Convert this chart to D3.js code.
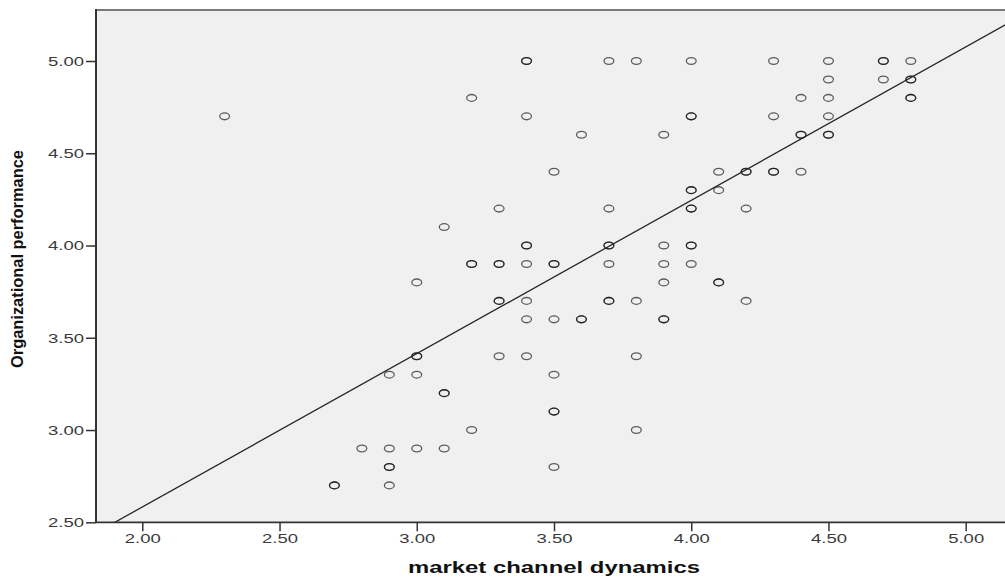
<!DOCTYPE html>
<html>
<head>
<meta charset="utf-8">
<script src="https://cdn.jsdelivr.net/npm/d3@7"></script>
<style>
  html, body { margin: 0; padding: 0; background: #ffffff; }
  svg { display: block; }
</style>
</head>
<body>
<div id="chart"></div>
<script>
// ---------- data ----------
const xTicks = [2.00, 2.50, 3.00, 3.50, 4.00, 4.50, 5.00];
const yTicks = [2.50, 3.00, 3.50, 4.00, 4.50, 5.00];
const xTitle = "market channel dynamics";
const yTitle = "Organizational performance";

// market channel dynamics (x) and organizational performance (y); repeated pairs = overlapping cases
const xValues = [
  3.4,3.4,3.7,3.8,4.0,4.3,4.5,4.7,4.7,4.8,
  4.5,4.7,4.8,4.8,
  3.2,4.4,4.5,4.8,4.8,
  2.3,3.4,4.0,4.0,4.3,4.5,
  3.6,3.9,4.4,4.4,4.5,4.5,
  3.5,4.1,4.2,4.2,4.3,4.3,4.4,
  4.0,4.0,4.1,
  3.3,3.7,4.0,4.0,4.2,
  3.1,
  3.4,3.4,3.7,3.7,3.9,4.0,4.0,
  3.2,3.2,3.3,3.3,3.4,3.5,3.5,3.7,3.9,4.0,
  3.0,3.9,4.1,4.1,
  3.3,3.3,3.4,3.7,3.7,3.8,4.2,
  3.4,3.5,3.6,3.6,3.9,3.9,
  3.0,3.0,3.3,3.4,3.8,
  2.9,3.0,3.5,
  3.1,3.1,
  3.5,3.5,
  3.2,3.8,
  2.8,2.9,3.0,3.1,
  2.9,2.9,3.5,
  2.7,2.7,2.9
];
const yValues = [
  5.0,5.0,5.0,5.0,5.0,5.0,5.0,5.0,5.0,5.0,
  4.9,4.9,4.9,4.9,
  4.8,4.8,4.8,4.8,4.8,
  4.7,4.7,4.7,4.7,4.7,4.7,
  4.6,4.6,4.6,4.6,4.6,4.6,
  4.4,4.4,4.4,4.4,4.4,4.4,4.4,
  4.3,4.3,4.3,
  4.2,4.2,4.2,4.2,4.2,
  4.1,
  4.0,4.0,4.0,4.0,4.0,4.0,4.0,
  3.9,3.9,3.9,3.9,3.9,3.9,3.9,3.9,3.9,3.9,
  3.8,3.8,3.8,3.8,
  3.7,3.7,3.7,3.7,3.7,3.7,3.7,
  3.6,3.6,3.6,3.6,3.6,3.6,
  3.4,3.4,3.4,3.4,3.4,
  3.3,3.3,3.3,
  3.2,3.2,
  3.1,3.1,
  3.0,3.0,
  2.9,2.9,2.9,2.9,
  2.8,2.8,2.8,
  2.7,2.7,2.7
];

// fit line
const fitIntercept = 0.921;
const fitSlope = 0.831;

// ---------- layout ----------
const W = 1005, H = 579;
const plotLeft = 96, plotTop = 10, plotRight = 1010, plotBottom = 522.3;

const x = d3.scaleLinear().domain([2, 5]).range([142.3, 965.7]);
const y = d3.scaleLinear().domain([2.5, 5]).range([522.3, 61]);

const svg = d3.select("#chart").append("svg")
  .attr("width", W).attr("height", H);

svg.append("defs").append("clipPath").attr("id", "plotClip")
  .append("rect")
  .attr("x", plotLeft).attr("y", plotTop)
  .attr("width", plotRight - plotLeft).attr("height", plotBottom - plotTop);

// plot background
svg.append("rect")
  .attr("x", plotLeft).attr("y", plotTop)
  .attr("width", plotRight - plotLeft).attr("height", plotBottom - plotTop)
  .attr("fill", "#f0f0f0");

// top border
svg.append("line")
  .attr("x1", plotLeft).attr("x2", plotRight)
  .attr("y1", plotTop).attr("y2", plotTop)
  .attr("stroke", "#7a7a7a").attr("stroke-width", 2);

const g = svg.append("g").attr("clip-path", "url(#plotClip)");

// points
g.selectAll("ellipse.pt")
  .data(xValues.map((v, i) => ({ x: v, y: yValues[i] })))
  .join("ellipse")
  .attr("class", "pt")
  .attr("cx", d => x(d.x))
  .attr("cy", d => y(d.y))
  .attr("rx", 4.9)
  .attr("ry", 3.4)
  .attr("fill", "none")
  .attr("stroke", "#000")
  .attr("stroke-opacity", 0.62)
  .attr("stroke-width", 1.3);

// regression line
const xd0 = x.invert(plotLeft), xd1 = x.invert(plotRight);
g.append("line")
  .attr("x1", x(xd0)).attr("y1", y(fitIntercept + fitSlope * xd0))
  .attr("x2", x(xd1)).attr("y2", y(fitIntercept + fitSlope * xd1))
  .attr("stroke", "#262626").attr("stroke-width", 1.3);

// axes
const fmt = d3.format(".2f");
const yAxis = svg.append("g")
  .attr("transform", `translate(${plotLeft},0)`)
  .call(d3.axisLeft(y).tickValues(yTicks).tickFormat(fmt).tickSize(10).tickPadding(2).tickSizeOuter(0));
const xAxis = svg.append("g")
  .attr("transform", `translate(0,${plotBottom})`)
  .call(d3.axisBottom(x).tickValues(xTicks).tickFormat(fmt).tickSize(9).tickPadding(3).tickSizeOuter(0));

[yAxis, xAxis].forEach(a => {
  a.select(".domain").remove();
  a.selectAll(".tick line").attr("stroke", "#333").attr("stroke-width", 1.5);
  a.selectAll(".tick text")
    .attr("fill", "#3a3a3a")
    .style("font-family", "'Liberation Sans', Arial, sans-serif")
    .style("font-size", "12px")
    .attr("textLength", 36)
    .attr("lengthAdjust", "spacingAndGlyphs");
});
yAxis.selectAll(".tick text").attr("dy", "0.36em");

// left and bottom axis lines
svg.append("line")
  .attr("x1", plotLeft).attr("x2", plotLeft)
  .attr("y1", plotTop - 1).attr("y2", plotBottom)
  .attr("stroke", "#333").attr("stroke-width", 2);
svg.append("line")
  .attr("x1", plotLeft).attr("x2", plotRight)
  .attr("y1", plotBottom).attr("y2", plotBottom)
  .attr("stroke", "#333").attr("stroke-width", 1.8);

// titles
svg.append("text")
  .attr("x", 554).attr("y", 573)
  .attr("text-anchor", "middle")
  .style("font-family", "'Liberation Sans', Arial, sans-serif")
  .style("font-weight", "bold")
  .style("font-size", "16px")
  .attr("fill", "#111")
  .attr("textLength", 292)
  .attr("lengthAdjust", "spacingAndGlyphs")
  .text(xTitle);

svg.append("text")
  .attr("transform", "translate(23,259) rotate(-90)")
  .attr("text-anchor", "middle")
  .style("font-family", "'Liberation Sans', Arial, sans-serif")
  .style("font-weight", "bold")
  .style("font-size", "17px")
  .attr("fill", "#111")
  .attr("textLength", 218)
  .attr("lengthAdjust", "spacingAndGlyphs")
  .text(yTitle);
</script>
</body>
</html>
